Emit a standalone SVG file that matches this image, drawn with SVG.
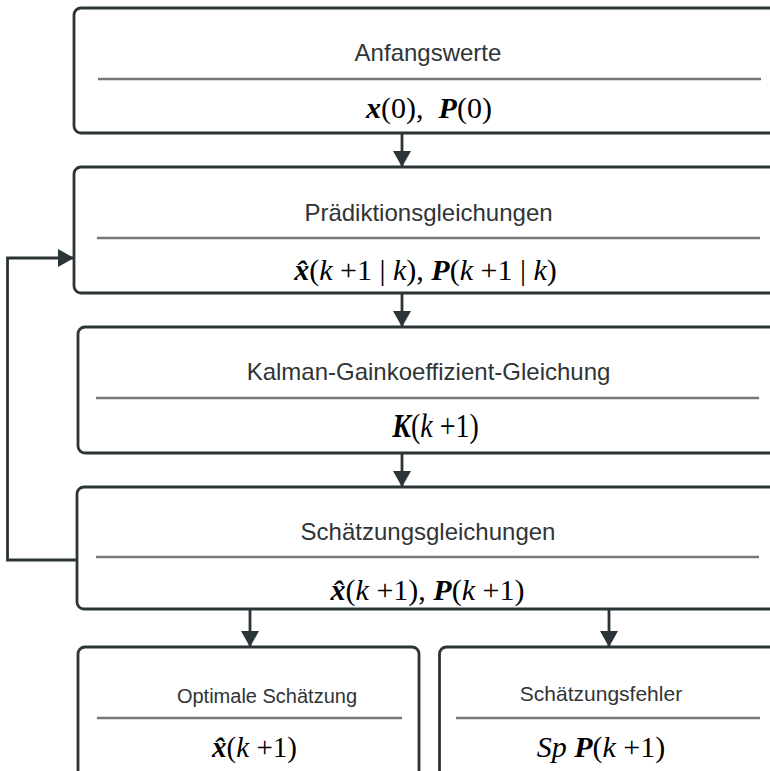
<svg xmlns="http://www.w3.org/2000/svg" width="770" height="771" viewBox="0 0 770 771">
<style>
.box{fill:#fff;stroke:#2b3436;stroke-width:2.8}
.sep{stroke:#777;stroke-width:2.5}
.lbl{font-family:"Liberation Sans",Arial,sans-serif;font-size:24px;fill:#2f3436;text-anchor:middle}
.sm{font-size:20px}
.m{font-family:"Liberation Serif","Times New Roman",serif;font-size:30px;fill:#000;text-anchor:middle}
.bi{font-weight:bold;font-style:italic}
.i{font-style:italic}
.con{fill:none;stroke:#2b3436;stroke-width:2.8}
</style>
<defs>
<marker id="ah" markerWidth="16" markerHeight="18" refX="16" refY="9" orient="auto" markerUnits="userSpaceOnUse" viewBox="0 0 16 18">
<path d="M0,0 L16,9 L0,18 z" fill="#2b3436"/>
</marker>
</defs>
<g id="connectors">
<path class="con" d="M402,134 V167" marker-end="url(#ah)"/>
<path class="con" d="M402,294 V327" marker-end="url(#ah)"/>
<path class="con" d="M402,454 V487" marker-end="url(#ah)"/>
<path class="con" d="M250,609 V647" marker-end="url(#ah)"/>
<path class="con" d="M609,609 V647" marker-end="url(#ah)"/>
<path class="con" d="M77,560 H7.5 V258 H74" marker-end="url(#ah)"/>
</g>
<g id="n1">
<rect class="box" x="74" y="8" width="716" height="125" rx="7"/>
<line class="sep" x1="98" y1="79" x2="761" y2="79"/>
<text class="lbl" x="428" y="61">Anfangswerte</text>
<text class="m" x="429" y="118" xml:space="preserve"><tspan class="bi">x</tspan>(0),  <tspan class="bi">P</tspan>(0)</text>
</g>
<g id="n2">
<rect class="box" x="74" y="167" width="716" height="126" rx="7"/>
<line class="sep" x1="97" y1="238" x2="760" y2="238"/>
<text class="lbl" x="428.5" y="221">Prädiktionsgleichungen</text>
<text class="m" x="425.5" y="280"><tspan class="bi">x̂</tspan>(<tspan class="i">k</tspan> +1 | <tspan class="i">k</tspan>), <tspan class="bi">P</tspan>(<tspan class="i">k</tspan> +1 | <tspan class="i">k</tspan>)</text>
</g>
<g id="n3">
<rect class="box" x="78" y="327" width="712" height="126" rx="7"/>
<line class="sep" x1="96" y1="398" x2="759" y2="398"/>
<text class="lbl" x="428.5" y="380">Kalman-Gainkoeffizient-Gleichung</text>
<g transform="translate(435.5,437) scale(1,1.2)">
<text class="m" x="0" y="0" style="font-size:28px"><tspan class="bi">K</tspan>(<tspan class="i">k</tspan> +1)</text>
</g>
</g>
<g id="n4">
<rect class="box" x="77" y="487" width="713" height="122" rx="7"/>
<line class="sep" x1="96" y1="557" x2="759" y2="557"/>
<text class="lbl" x="428" y="540">Schätzungsgleichungen</text>
<text class="m" x="427.5" y="600"><tspan class="bi">x̂</tspan>(<tspan class="i">k</tspan> +1), <tspan class="bi">P</tspan>(<tspan class="i">k</tspan> +1)</text>
</g>
<g id="n5">
<rect class="box" x="78" y="647" width="341" height="140" rx="7"/>
<line class="sep" x1="97" y1="718" x2="402" y2="718"/>
<text class="lbl sm" x="267" y="703">Optimale Schätzung</text>
<text class="m" x="254.5" y="757" style="font-size:29px"><tspan class="bi">x̂</tspan>(<tspan class="i">k</tspan> +1)</text>
</g>
<g id="n6">
<rect class="box" x="439.5" y="647" width="350" height="140" rx="7"/>
<line class="sep" x1="456" y1="718" x2="760" y2="718"/>
<text class="lbl" x="601" y="701" style="font-size:21px">Schätzungsfehler</text>
<text class="m" x="601" y="757"><tspan class="i">Sp</tspan> <tspan class="bi">P</tspan>(<tspan class="i">k</tspan> +1)</text>
</g>
</svg>
